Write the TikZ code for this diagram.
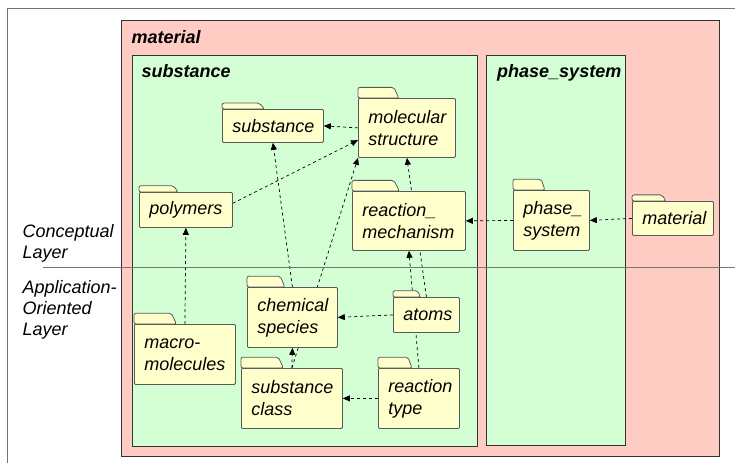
\documentclass[tikz,border=0pt]{standalone}
\usepackage{fontspec}
\setmainfont{Liberation Sans}
\usetikzlibrary{arrows.meta,calc}
\definecolor{pkgPink}{RGB}{255,204,196}
\definecolor{pkgGreen}{RGB}{212,255,212}
\definecolor{folderYellow}{RGB}{255,255,204}
\pgfdeclarelayer{pkglayer}
\pgfdeclarelayer{deplayer}
\pgfsetlayers{pkglayer,deplayer,main}
\tikzset{
  pkg/.style={draw=black!80,line width=0.8pt},
  pkgtitle/.style={anchor=base west,inner sep=0pt,font=\fontsize{18}{21}\selectfont\bfseries\itshape},
  fbody/.style={draw=black!65,fill=folderYellow,line width=0.8pt,anchor=north west,
                inner xsep=10pt,inner ysep=0pt,align=left,rounded corners=1pt,
                font=\fontsize{18}{22}\selectfont\itshape},
  ftab/.style={draw=black!65,fill=folderYellow,line width=0.8pt,rounded corners=2pt},
  dep/.style={-{Triangle[length=7pt,width=6pt]},dashed,line width=0.7pt},
  rulerline/.style={black!55,line width=0.8pt},
  layerlbl/.style={anchor=north west,align=left,inner sep=0pt,font=\fontsize{18}{21}\selectfont\itshape},
}
% folder: [options] name, x, y (top left of body), width, height, text
\newcommand{\folder}[7][]{%
  \pgfmathsetmacro{\ftw}{#5-20}%
  \draw[ftab] (#3,#4) -- ++(0,{-0.18*#6}) -- ++({0.37*#5},0) -- ++({0.05*#5},{0.18*#6}) -- cycle;
  \node[fbody,minimum width=#5pt,minimum height=#6pt,text width=\ftw pt,#1] (#2) at (#3,#4) {#7};
}

\begin{document}
\begin{tikzpicture}[x=1pt,y=-1pt]
  \useasboundingbox (0,0) rectangle (735,463);

  \begin{pgfonlayer}{pkglayer}
    \draw[pkg,fill=pkgPink] (121,20) rectangle (719,456);
    \draw[pkg,fill=pkgGreen] (132,55) rectangle (477,446);
    \draw[pkg,fill=pkgGreen] (486,55) rectangle (625,445);
  \end{pgfonlayer}
  \node[pkgtitle] (tmaterial) at (131.5,43.5) {material};
  \node[pkgtitle] (tsubstance) at (141.5,77.5) {substance};
  \node[pkgtitle] (tphase) at (497,77.5) {phase\_system};

  % frame and layer divider
  \draw[rulerline] (7,463) -- (7,8) -- (735,8);
  \draw[rulerline] (43,267.5) -- (735,267.5);
  \node[layerlbl] (lconcept) at (22.5,224) {Conceptual\\Layer};
  \node[layerlbl] (lapp) at (22.5,280.5) {Application-\\Oriented\\Layer};

  % folders
  \folder{fsub}{222}{109}{101}{33}{substance}
  \folder{fmol}{358}{98}{97}{59}{molecular\\structure}
  \folder{fpoly}{139}{192}{93}{35}{polymers}
  \folder{frm}{352}{191}{113}{59}{reaction\_\\mechanism}
  \folder{fchem}{247}{287}{90}{60}{chemical\\species}
  \folder{fatoms}{393}{297}{66}{35}{atoms}
  \folder{fmacro}{134}{324}{101}{60}{macro-\\molecules}
  \folder{fclass}{241}{368}{101}{60}{substance\\class}
  \folder{frtype}{378}{368}{81}{60}{reaction\\type}
  \folder[inner xsep=8pt]{fphase}{513}{190}{76}{60}{phase\_\\system}
  \folder{fmat}{632}{201}{81}{34}{material}

  % dependencies
  \begin{pgfonlayer}{deplayer}
    \draw[dep] (fmol.west) -- (fsub.east);
    \draw[dep] (fpoly.8) -- (fmol.194);
    \draw[dep] (fchem.north) -- (fsub.south);
    \draw[dep] (fclass.north) -- (fmol.south west);
    \draw[dep] (fclass.north) -- (fchem.south);
    \draw[dep] (fatoms.north) -- (fmol.south);
    \draw[dep] (frtype.north) -- (frm.south);
    \draw[dep] (fatoms.west) -- (fchem.east);
    \draw[dep] (frtype.west) -- (fclass.east);
    \draw[dep] (fmacro.north) -- (fpoly.south);
    \draw[dep] (fphase.west) -- (frm.east);
    \draw[dep] (fmat.west) -- (fphase.east);
  \end{pgfonlayer}
\end{tikzpicture}
\end{document}
